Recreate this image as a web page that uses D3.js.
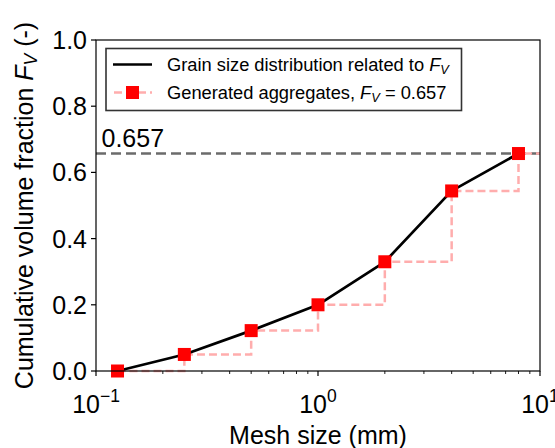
<!DOCTYPE html>
<html>
<head>
<meta charset="utf-8">
<script src="https://cdn.jsdelivr.net/npm/d3@7"></script>
<style>
  html, body { margin: 0; padding: 0; background: #fff; }
  svg { display: block; font-family: "Liberation Sans", Arial, sans-serif; }
</style>
</head>
<body>
<svg id="chart" width="555" height="448"></svg>
<script>
// Sieve mesh sizes (mm) and the cumulative volume fraction passing each one
const meshSizes = [0.125, 0.25, 0.5, 1, 2, 4, 8];
const cumulativeFractions = [0, 0.05, 0.122, 0.2, 0.33, 0.544, 0.657];
// Target volume fraction of the generated aggregates
const targetFV = 0.657;
const targetLabel = "0.657";
// Axis ticks
const xMajorTicks = [0.1, 1, 10];
const xTickExponents = ["\u22121", "0", "1"];
const xMinorTicks = [0.2, 0.3, 0.4, 0.5, 0.6, 0.7, 0.8, 0.9, 2, 3, 4, 5, 6, 7, 8, 9];
const yTicks = [0, 0.2, 0.4, 0.6, 0.8, 1.0];
const yTickLabels = ["0.0", "0.2", "0.4", "0.6", "0.8", "1.0"];

const svg = d3.select("#chart");
const margin = { left: 96, top: 40, right: 15, bottom: 77 };
const W = 555, H = 448;
const plotW = W - margin.left - margin.right;
const plotH = H - margin.top - margin.bottom;

const x = d3.scaleLog().domain([0.1, 10]).range([0, plotW]);
const y = d3.scaleLinear().domain([0, 1]).range([plotH, 0]);

const g = svg.append("g").attr("transform", `translate(${margin.left},${margin.top})`);

const points = meshSizes.map((m, i) => ({ x: m, y: cumulativeFractions[i] }));

// Reference level of the target fraction
g.append("line")
  .attr("x1", 0).attr("x2", plotW)
  .attr("y1", y(targetFV)).attr("y2", y(targetFV))
  .attr("stroke", "#6b6b6b").attr("stroke-width", 2.5)
  .attr("stroke-dasharray", "10,5");

g.append("text")
  .attr("x", 5.5).attr("y", y(targetFV) - 6.5)
  .attr("font-size", 25).attr("fill", "#000")
  .text(targetLabel);

// Generated aggregates: post-step line running to the right edge
const stepData = points.concat([{ x: x.domain()[1], y: targetFV }]);
const stepLine = d3.line().x(d => x(d.x)).y(d => y(d.y)).curve(d3.curveStepAfter);
g.append("path")
  .datum(stepData)
  .attr("d", stepLine)
  .attr("fill", "none")
  .attr("stroke", "#ffadad").attr("stroke-width", 2.5)
  .attr("stroke-dasharray", "8,4");

// Grain size distribution
const distLine = d3.line().x(d => x(d.x)).y(d => y(d.y));
g.append("path")
  .datum(points)
  .attr("d", distLine)
  .attr("fill", "none")
  .attr("stroke", "#000").attr("stroke-width", 2.7)
  .attr("stroke-linejoin", "round");

// Square markers
const ms = 13;
g.selectAll("rect.marker")
  .data(points)
  .join("rect")
  .attr("class", "marker")
  .attr("x", d => x(d.x) - ms / 2)
  .attr("y", d => y(d.y) - ms / 2)
  .attr("width", ms).attr("height", ms)
  .attr("fill", "#ff0000");

// Frame
g.append("rect")
  .attr("x", 0).attr("y", 0).attr("width", plotW).attr("height", plotH)
  .attr("fill", "none").attr("stroke", "#000").attr("stroke-width", 1.2);

// Y axis
const yAxis = g.append("g");
yAxis.selectAll("line")
  .data(yTicks)
  .join("line")
  .attr("x1", -5).attr("x2", 0)
  .attr("y1", d => y(d)).attr("y2", d => y(d))
  .attr("stroke", "#000").attr("stroke-width", 1.2);
yAxis.selectAll("text")
  .data(yTicks)
  .join("text")
  .attr("x", -9).attr("y", d => y(d) + 9)
  .attr("text-anchor", "end")
  .attr("font-size", 25)
  .text((d, i) => yTickLabels[i]);

// X axis
const xAxis = g.append("g");
xAxis.selectAll("line.major")
  .data(xMajorTicks)
  .join("line")
  .attr("class", "major")
  .attr("x1", d => x(d)).attr("x2", d => x(d))
  .attr("y1", plotH).attr("y2", plotH + 5)
  .attr("stroke", "#000").attr("stroke-width", 1.2);
xAxis.selectAll("line.minor")
  .data(xMinorTicks)
  .join("line")
  .attr("class", "minor")
  .attr("x1", d => x(d)).attr("x2", d => x(d))
  .attr("y1", plotH).attr("y2", plotH + 3)
  .attr("stroke", "#000").attr("stroke-width", 0.9);
const xLabels = xAxis.selectAll("text")
  .data(xMajorTicks)
  .join("text")
  .attr("x", d => x(d)).attr("y", plotH + 42)
  .attr("text-anchor", "middle")
  .attr("font-size", 25);
xLabels.append("tspan").text("10");
xLabels.append("tspan")
  .attr("font-size", 17.5).attr("dy", -11)
  .text((d, i) => xTickExponents[i]);

// Axis titles
svg.append("text")
  .attr("x", margin.left + plotW / 2).attr("y", 444)
  .attr("text-anchor", "middle")
  .attr("font-size", 25)
  .text("Mesh size (mm)");

const yTitle = svg.append("text")
  .attr("transform", `translate(33,${margin.top + plotH / 2}) rotate(-90)`)
  .attr("text-anchor", "middle")
  .attr("font-size", 25);
yTitle.append("tspan").text("Cumulative volume fraction ");
yTitle.append("tspan").attr("font-style", "italic").text("F");
yTitle.append("tspan").attr("font-style", "italic").attr("font-size", 17.5).attr("dy", 4).text("V");
yTitle.append("tspan").attr("dy", -4).text(" (-)");

// Legend
const legend = svg.append("g");
legend.append("rect")
  .attr("x", 106).attr("y", 48.5).attr("width", 355.5).attr("height", 62)
  .attr("fill", "#fff").attr("stroke", "#333").attr("stroke-width", 1.6);

legend.append("line")
  .attr("x1", 113).attr("x2", 152).attr("y1", 64.5).attr("y2", 64.5)
  .attr("stroke", "#000").attr("stroke-width", 2.7);
legend.append("line")
  .attr("x1", 113).attr("x2", 152).attr("y1", 92.5).attr("y2", 92.5)
  .attr("stroke", "#ffadad").attr("stroke-width", 2.5)
  .attr("stroke-dasharray", "8,4").attr("stroke-dashoffset", -1);
legend.append("rect")
  .attr("x", 132.5 - 6.5).attr("y", 92.5 - 6.5).attr("width", 13).attr("height", 13)
  .attr("fill", "#ff0000");

const l1 = legend.append("text").attr("x", 167).attr("y", 71).attr("font-size", 18.3);
l1.append("tspan").text("Grain size distribution related to ");
l1.append("tspan").attr("font-style", "italic").text("F");
l1.append("tspan").attr("font-style", "italic").attr("font-size", 12.8).attr("dy", 3).text("V");

const l2 = legend.append("text").attr("x", 167).attr("y", 99).attr("font-size", 18.3);
l2.append("tspan").text("Generated aggregates, ");
l2.append("tspan").attr("font-style", "italic").text("F");
l2.append("tspan").attr("font-style", "italic").attr("font-size", 12.8).attr("dy", 3).text("V");
l2.append("tspan").attr("dy", -3).text(" = " + targetFV);
</script>
</body>
</html>
